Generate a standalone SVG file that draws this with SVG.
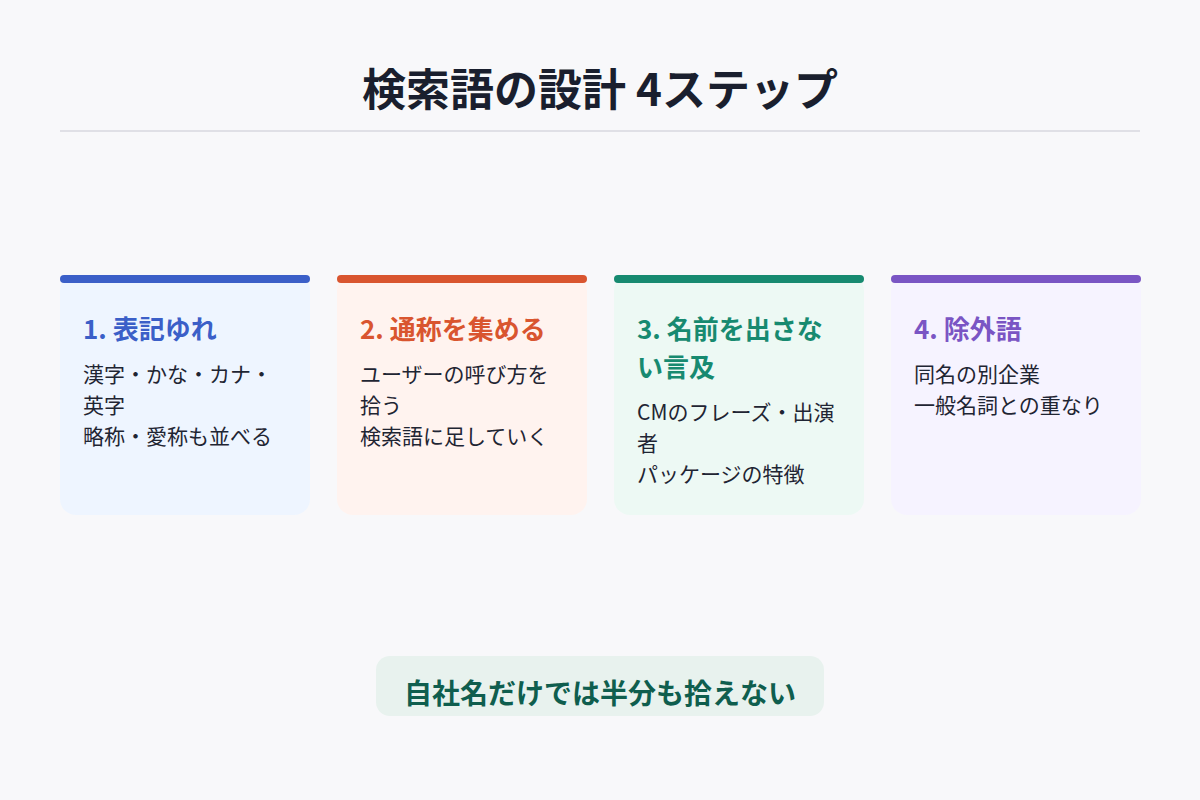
<svg xmlns="http://www.w3.org/2000/svg" width="1200" height="800" viewBox="0 0 1200 800">
<style>
text{font-family:"Noto Sans CJK JP","Noto Sans",sans-serif}
.title{font-size:44px;font-weight:700;fill:#1a1f2e}
.h{font-size:26px;font-weight:700}
.b{font-size:21px;fill:#1f2533}
.note{font-size:28px;font-weight:700;fill:#0f5e4e}
</style>
<rect width="1200" height="800" fill="#f8f8fa"/>
<g id="header">
<text class="title" x="600" y="106" text-anchor="middle">検索語の設計 4ステップ</text>
<line x1="60" y1="131" x2="1140" y2="131" stroke="#e0e0e6" stroke-width="2"/>
</g>
<g id="step1">
<rect x="60" y="275" width="250" height="240" rx="16" fill="#eef5ff"/>
<rect x="60" y="275" width="250" height="8" rx="4" fill="#3b5fc8"/>
<text class="h" x="83" y="339" fill="#3b5fc8">1. 表記ゆれ</text>
<text class="b" x="83" y="382">漢字・かな・カナ・</text>
<text class="b" x="83" y="413">英字</text>
<text class="b" x="83" y="444">略称・愛称も並べる</text>
</g>
<g id="step2">
<rect x="337" y="275" width="250" height="240" rx="16" fill="#fff3ef"/>
<rect x="337" y="275" width="250" height="8" rx="4" fill="#d9552f"/>
<text class="h" x="360" y="339" fill="#d9552f">2. 通称を集める</text>
<text class="b" x="360" y="382">ユーザーの呼び方を</text>
<text class="b" x="360" y="413">拾う</text>
<text class="b" x="360" y="444">検索語に足していく</text>
</g>
<g id="step3">
<rect x="614" y="275" width="250" height="240" rx="16" fill="#edf9f4"/>
<rect x="614" y="275" width="250" height="8" rx="4" fill="#178a70"/>
<text class="h" x="637" y="339" fill="#178a70">3. 名前を出さな</text>
<text class="h" x="637" y="377" fill="#178a70">い言及</text>
<text class="b" x="637" y="420">CMのフレーズ・出演</text>
<text class="b" x="637" y="451">者</text>
<text class="b" x="637" y="482">パッケージの特徴</text>
</g>
<g id="step4">
<rect x="891" y="275" width="250" height="240" rx="16" fill="#f6f3ff"/>
<rect x="891" y="275" width="250" height="8" rx="4" fill="#7a55c4"/>
<text class="h" x="914" y="339" fill="#7a55c4">4. 除外語</text>
<text class="b" x="914" y="382">同名の別企業</text>
<text class="b" x="914" y="413">一般名詞との重なり</text>
</g>
<g id="connectors"></g>
<g id="note">
<rect x="376" y="656" width="448" height="60" rx="14" fill="#e8f2ee"/>
<text class="note" x="600" y="704" text-anchor="middle">自社名だけでは半分も拾えない</text>
</g>
</svg>
